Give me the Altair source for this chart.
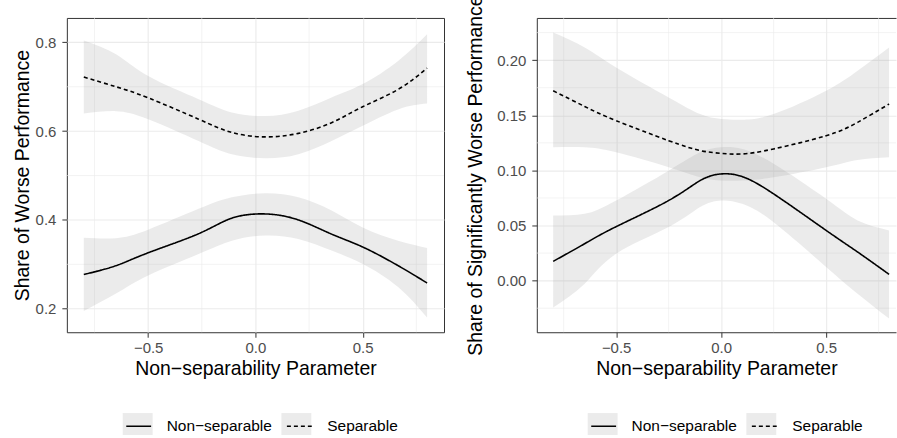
import altair as alt
import pandas as pd

GROUPS = ["Non\u2212separable", "Separable"]
X_TITLE = "Non\u2212separability Parameter"
X_MAJOR = [-0.5, 0.0, 0.5]
X_MINOR = [-0.75, -0.25, 0.25, 0.75]

# ---- left panel: Share of Worse Performance ----
left_x = [-0.8, -0.65, -0.5, -0.265, -0.11, 0.045, 0.2, 0.355, 0.5, 0.665, 0.8]
left_nonsep_fit = [0.277, 0.297, 0.326, 0.369, 0.404, 0.4135, 0.400, 0.368, 0.339, 0.297, 0.258]
left_nonsep_lo = [0.195, 0.234, 0.275, 0.323, 0.353, 0.365, 0.357, 0.331, 0.301, 0.249, 0.180]
left_nonsep_hi = [0.360, 0.359, 0.378, 0.425, 0.451, 0.460, 0.451, 0.421, 0.383, 0.353, 0.337]
left_sep_fit = [0.722, 0.700, 0.675, 0.627, 0.597, 0.587, 0.595, 0.619, 0.655, 0.694, 0.742]
left_sep_lo = [0.640, 0.645, 0.627, 0.578, 0.548, 0.539, 0.548, 0.578, 0.612, 0.649, 0.662]
left_sep_hi = [0.804, 0.773, 0.724, 0.672, 0.642, 0.634, 0.646, 0.676, 0.706, 0.758, 0.818]
left_y_major = [0.2, 0.4, 0.6, 0.8]
left_y_minor = [0.3, 0.5, 0.7]

# ---- right panel: Share of Significantly Worse Performance ----
right_x = [-0.8, -0.65, -0.5, -0.25, -0.1, 0.0, 0.1, 0.25, 0.5, 0.65, 0.8]
right_nonsep_fit = [0.0175, 0.0335, 0.049, 0.0727, 0.0908, 0.0968, 0.0944, 0.0787, 0.0456, 0.026, 0.0057]
right_nonsep_lo = [-0.0244, -0.0027, 0.0244, 0.0486, 0.0667, 0.0727, 0.0697, 0.053, 0.0124, -0.0118, -0.0344]
right_nonsep_hi = [0.059, 0.0606, 0.0727, 0.0998, 0.1164, 0.121, 0.1195, 0.106, 0.0742, 0.0546, 0.0456]
right_sep_fit = [0.1722, 0.158, 0.1451, 0.127, 0.118, 0.1155, 0.1149, 0.1195, 0.1315, 0.1436, 0.1602]
right_sep_lo = [0.121, 0.121, 0.1164, 0.1029, 0.0938, 0.0908, 0.0908, 0.0938, 0.1029, 0.1095, 0.1119]
right_sep_hi = [0.225, 0.2115, 0.1934, 0.1662, 0.1511, 0.1466, 0.146, 0.1511, 0.1722, 0.1903, 0.2115]
right_y_major = [0.0, 0.05, 0.10, 0.15, 0.20]
right_y_minor = [-0.025, 0.025, 0.075, 0.125, 0.175, 0.225]

FONT = "Liberation Sans"
LINE_KEY = "M-0.83,0L0.83,0"
BOX_KEY = "M-1,-0.8L1,-0.8L1,0.8L-1,0.8Z"
LABEL_SIZE = 15.5


def long_df(xs, fits, los, his):
    rows = []
    for g, f, l, h in zip(GROUPS, fits, los, his):
        for x, a, b, c in zip(xs, f, l, h):
            rows.append({"x": x, "fit": a, "lo": b, "hi": c, "group": g, "band": g})
    return pd.DataFrame(rows)


def panel(df, xdom, ydom, ymajor, yminor, yfmt, ytitle, ytitle_pad, width, height,
          legend_x, open_right):
    xscale = alt.Scale(domain=xdom, nice=False, zero=False)
    yscale = alt.Scale(domain=ydom, nice=False, zero=False)
    xaxis = alt.Axis(values=X_MAJOR, format=".1f", title=X_TITLE, grid=True,
                     domain=open_right, orient="bottom", labelPadding=3)
    yaxis = alt.Axis(values=ymajor, format=yfmt, title=ytitle, grid=True,
                     domain=open_right, orient="left", labelPadding=6,
                     titlePadding=ytitle_pad)
    common = dict(orient="none", legendX=legend_x, legendY=393, direction="horizontal",
                  title=None, symbolSize=900)

    minor_y = alt.Chart(pd.DataFrame({"v": yminor})).mark_rule(
        color="#EBEBEB", strokeWidth=0.6
    ).encode(y=alt.Y("v:Q", scale=yscale, axis=yaxis))

    base = alt.Chart(df)
    band = base.mark_area(opacity=0.2, interpolate="natural").encode(
        x=alt.X("x:Q", scale=xscale, axis=xaxis),
        y=alt.Y("lo:Q", scale=yscale, axis=yaxis),
        y2="hi:Q",
        fill=alt.Fill(
            "band:N",
            scale=alt.Scale(range=["#999999", "#999999"]),
            legend=alt.Legend(
                symbolType=BOX_KEY, symbolOpacity=0.2, symbolStrokeWidth=0,
                labelExpr="''", labelOffset=12, columnPadding=117,
                labelFontSize=LABEL_SIZE, **common,
            ),
        ),
    )
    line = base.mark_line(color="black", strokeWidth=1.6, interpolate="natural").encode(
        x=alt.X("x:Q", scale=xscale, axis=xaxis),
        y=alt.Y("fit:Q", scale=yscale, axis=yaxis),
        strokeDash=alt.StrokeDash(
            "group:N",
            scale=alt.Scale(domain=GROUPS, range=[[1, 0], [4, 3]]),
            legend=alt.Legend(
                symbolType=LINE_KEY, symbolStrokeWidth=1.6, symbolStrokeColor="black",
                labelFontSize=LABEL_SIZE, labelFont=FONT, labelColor="black",
                labelOffset=12, columnPadding=11, **common,
            ),
        ),
    )

    if open_right:
        top_axis = alt.Axis(orient="top", labels=False, ticks=False, title=None,
                            grid=False, domain=True)
        minor_x = alt.Chart(pd.DataFrame({"v": X_MINOR})).mark_rule(
            color="#EBEBEB", strokeWidth=0.6
        ).encode(x=alt.X("v:Q", scale=xscale, axis=top_axis))
        inner = alt.layer(minor_y, band, line)
        layer = alt.layer(minor_x, inner).resolve_axis(x="independent").properties(
            width=width, height=height, view=alt.ViewBackground(stroke=None)
        )
    else:
        minor_x = alt.Chart(pd.DataFrame({"v": X_MINOR})).mark_rule(
            color="#EBEBEB", strokeWidth=0.6
        ).encode(x=alt.X("v:Q", scale=xscale, axis=xaxis))
        layer = alt.layer(minor_x, minor_y, band, line).properties(width=width, height=height)
    return layer


left_df = long_df(left_x,
                  [left_nonsep_fit, left_sep_fit],
                  [left_nonsep_lo, left_sep_lo],
                  [left_nonsep_hi, left_sep_hi])
right_df = long_df(right_x,
                   [right_nonsep_fit, right_sep_fit],
                   [right_nonsep_lo, right_sep_lo],
                   [right_nonsep_hi, right_sep_hi])

left = panel(left_df, [-0.879, 0.879], [0.147, 0.855], left_y_major, left_y_minor, ".1f",
             "Share of Worse Performance", 3, 378, 315, 56, False)
right = panel(right_df, [-0.878, 0.833], [-0.0468, 0.2383], right_y_major, right_y_minor, ".2f",
              "Share of Significantly Worse Performance", 11, 360, 315, 51, True)

chart = alt.hconcat(left, right, spacing=20).resolve_scale(
    strokeDash="independent", fill="independent"
).resolve_legend(strokeDash="independent", fill="independent").properties(
    padding={"left": 11, "top": -6.5, "right": 0, "bottom": -4}
).configure(
    font=FONT
).configure_view(
    stroke="#333333", strokeWidth=1
).configure_legend(
    padding=0
).configure_axis(
    labelFont=FONT, labelFontSize=15, labelColor="#4D4D4D",
    tickColor="#333333", tickSize=5, tickWidth=1,
    domainColor="#333333", domainWidth=1,
    gridColor="#EBEBEB", gridWidth=1.1,
    titleFont=FONT, titleFontSize=19.5, titleFontWeight="normal", titleColor="black",
)

chart.save("out.html", embed_options={"renderer": "svg", "actions": False})
